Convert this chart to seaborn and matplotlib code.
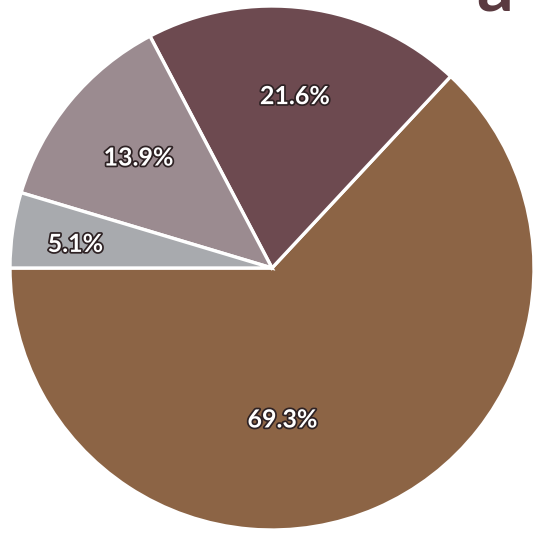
"""Pie chart of category shares (panel a)."""
import matplotlib

matplotlib.use("Agg")
import matplotlib.patheffects as pe
import matplotlib.pyplot as plt
import seaborn as sns

# data, in drawing order (counter-clockwise from the left)
categories = ["D", "C", "B", "A"]
shares = [69.3, 21.6, 13.9, 5.1]
slice_colors = ["#8c6445", "#6d4a50", "#9b8b90", "#a8aaae"]
pct_labels = [f"{v:.1f}%" for v in shares]
panel_label = "a"

sns.set_theme(style="white")
plt.rcParams["font.family"] = ["Lato", "DejaVu Sans"]

fig = plt.figure(figsize=(5.34, 5.36), dpi=100)
ax = fig.add_axes([10 / 534, 6 / 536, 524 / 534, 524 / 536])

wedges, texts = ax.pie(
    shares,
    labels=pct_labels,
    colors=slice_colors,
    startangle=180,
    counterclock=True,
    labeldistance=0.66,
    wedgeprops=dict(edgecolor="white", linewidth=2.4),
    textprops=dict(color="white", fontsize=18, fontweight="bold", ha="center", va="center"),
)
for t in texts:
    t.set_path_effects([pe.withStroke(linewidth=2.5, foreground="#2e2224")])
    t.set_horizontalalignment("center")

# the big slice label sits lower / more central than its wedge middle
texts[0].set_position((0.04, -0.58))
texts[3].set_position((-0.75, 0.09))

ax.set_xlim(-1, 1)
ax.set_ylim(-1, 1)
ax.set_aspect("equal")
ax.axis("off")

# panel letter, cut by the top edge as in the source figure
fig.text(476 / 534, 1 - 12 / 536, panel_label, fontsize=52, fontweight="bold",
         color="#5a3a40", ha="left", va="baseline")

fig.savefig("out.png", dpi=100)
plt.close(fig)
